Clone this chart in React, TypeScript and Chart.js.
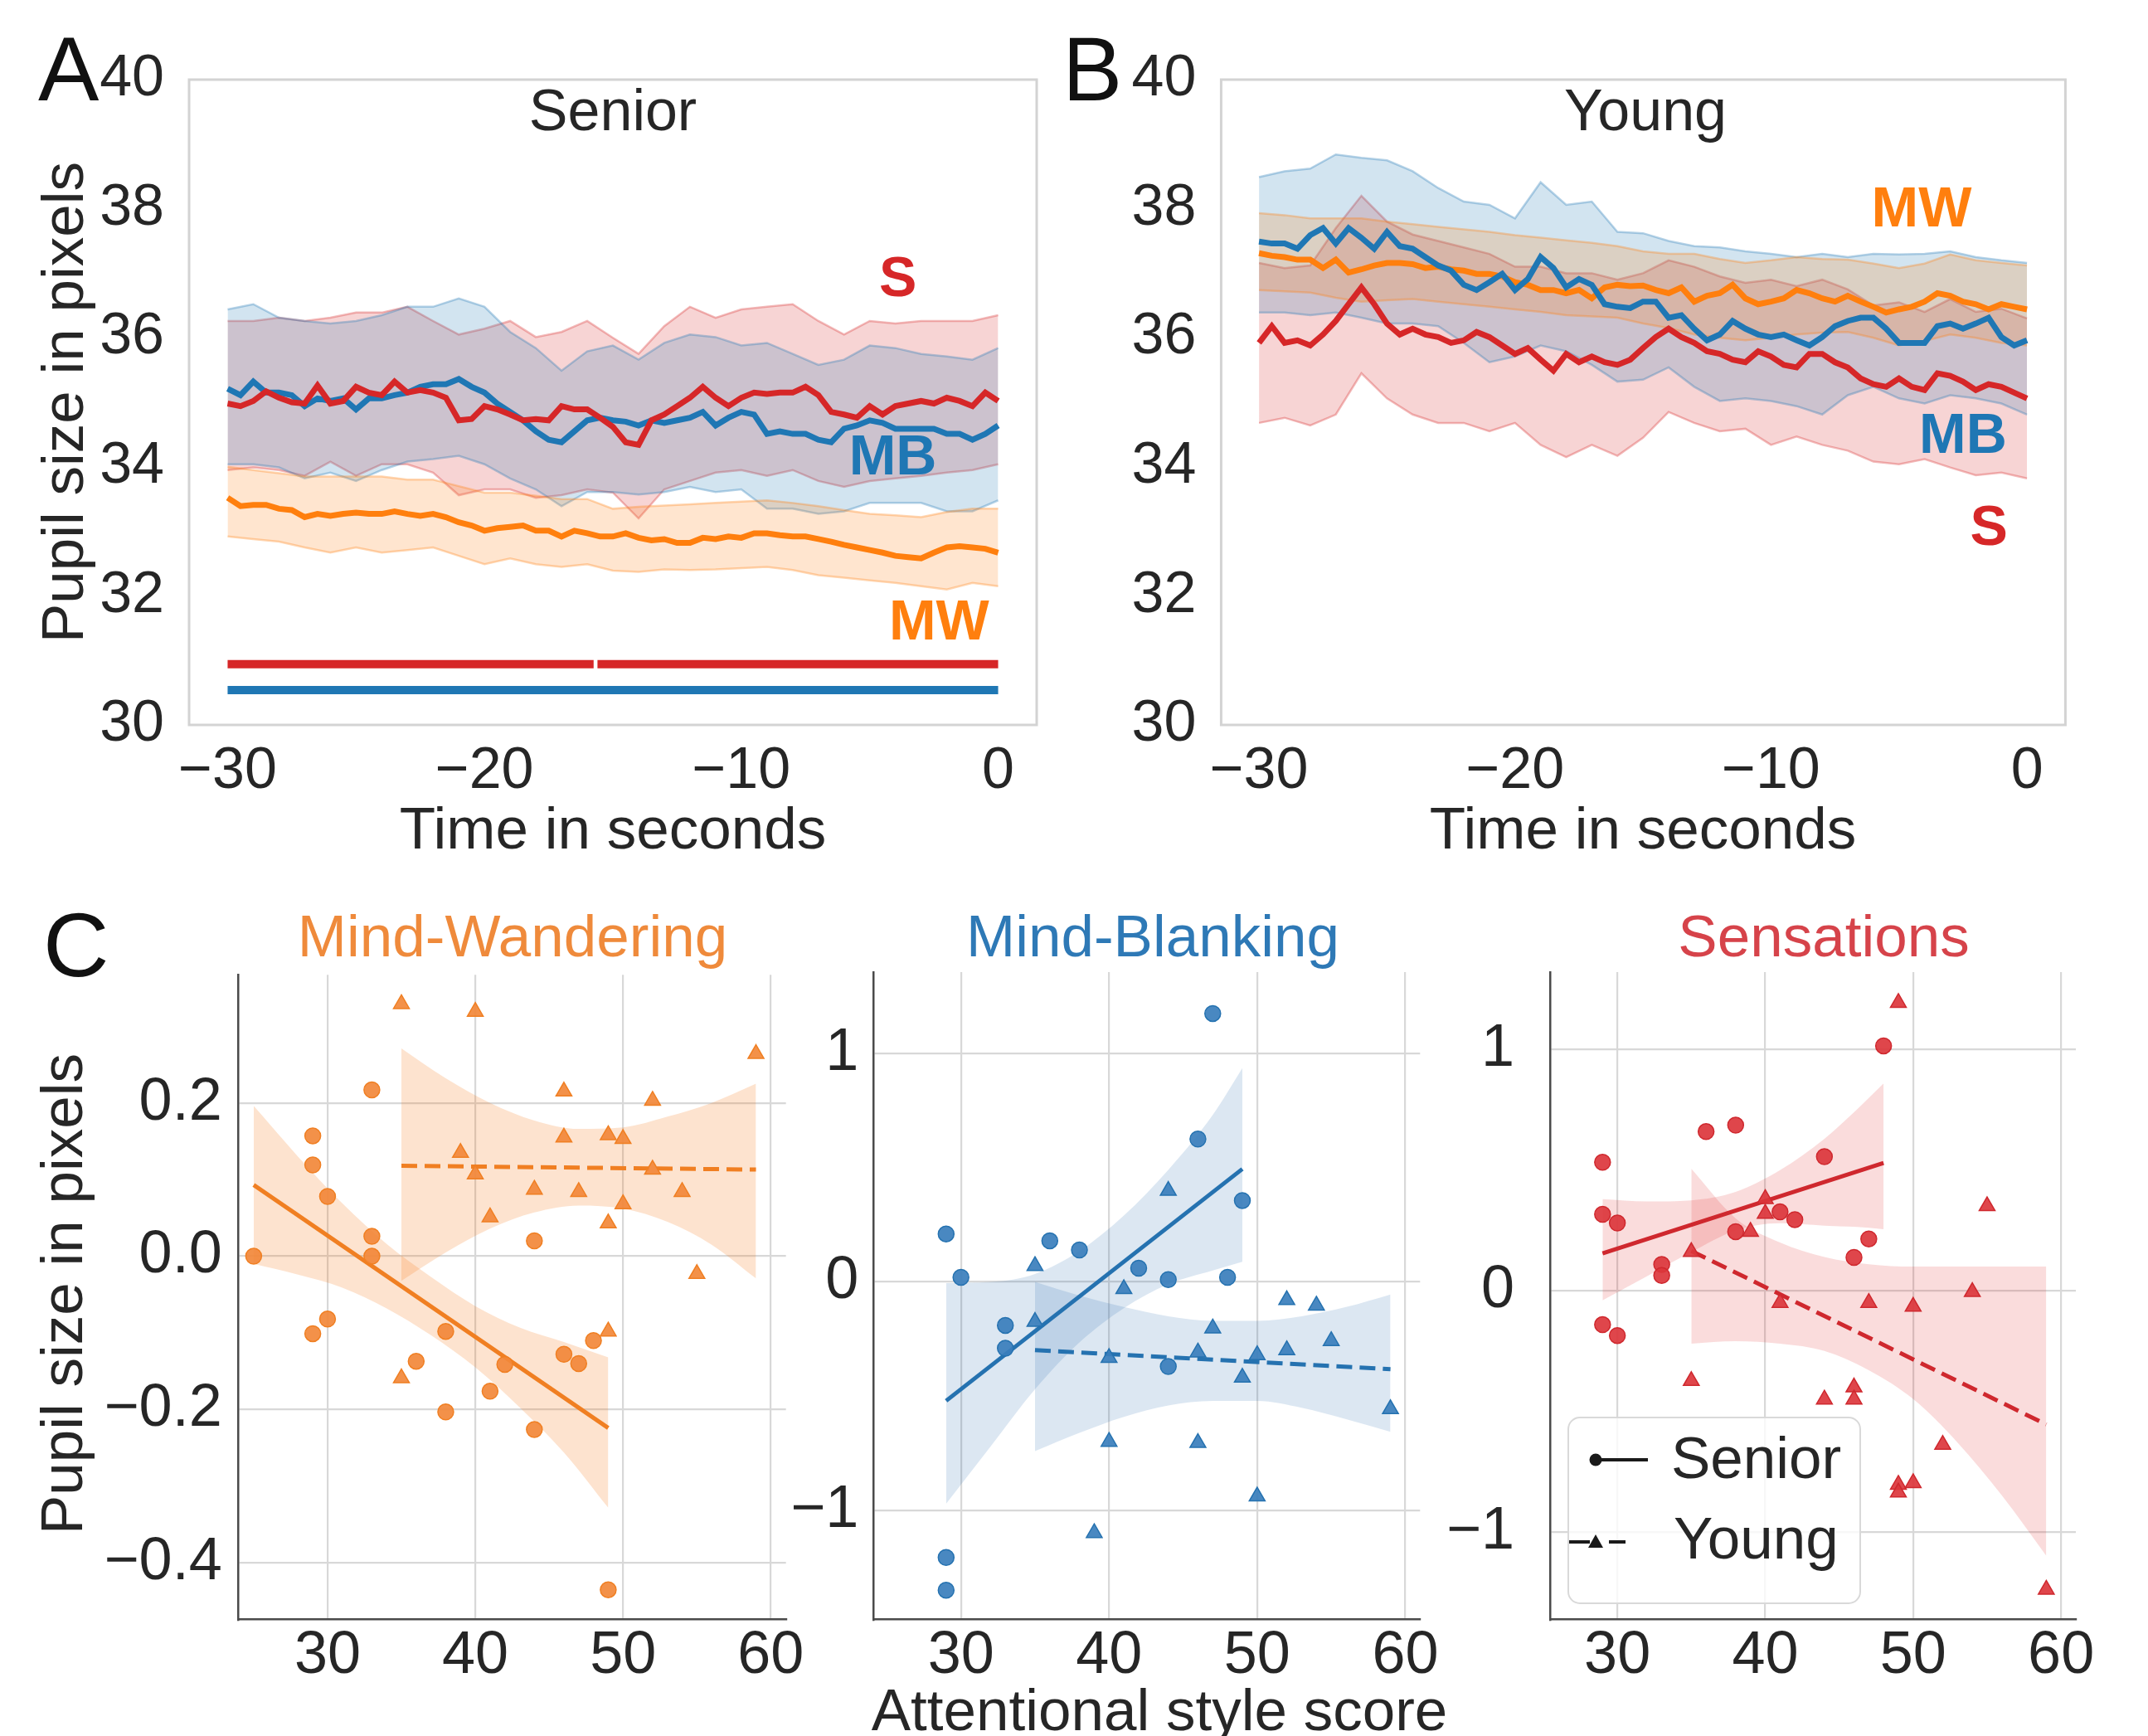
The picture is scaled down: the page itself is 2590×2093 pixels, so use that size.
import React, { useEffect, useRef } from 'react';
import { Chart, registerables } from 'chart.js';

Chart.register(...registerables);

const FONT = "'Liberation Sans', Arial, Helvetica, sans-serif";
const INK = '#262626';

// ---------------- Panels A / B (time courses) ----------------
const T_HALF = [-30, -29.5, -29, -28.5, -28, -27.5, -27, -26.5, -26, -25.5, -25, -24.5, -24, -23.5, -23, -22.5, -22, -21.5, -21, -20.5, -20, -19.5, -19, -18.5, -18, -17.5, -17, -16.5, -16, -15.5, -15, -14.5, -14, -13.5, -13, -12.5, -12, -11.5, -11, -10.5, -10, -9.5, -9, -8.5, -8, -7.5, -7, -6.5, -6, -5.5, -5, -4.5, -4, -3.5, -3, -2.5, -2, -1.5, -1, -0.5, 0];
const T_SEC = [-30, -29, -28, -27, -26, -25, -24, -23, -22, -21, -20, -19, -18, -17, -16, -15, -14, -13, -12, -11, -10, -9, -8, -7, -6, -5, -4, -3, -2, -1, 0];
const TIME_TICKS = [-30, -20, -10, 0];
const PUPIL_TICKS = [30, 32, 34, 36, 38, 40];

// Senior
const SEN_S_MEAN = [34.98, 34.94, 35.02, 35.17, 35.07, 35.0, 34.98, 35.26, 34.98, 35.02, 35.24, 35.15, 35.11, 35.32, 35.15, 35.19, 35.15, 35.07, 34.72, 34.74, 34.94, 34.89, 34.81, 34.72, 34.74, 34.72, 34.94, 34.89, 34.89, 34.76, 34.62, 34.38, 34.34, 34.72, 34.81, 34.94, 35.07, 35.24, 35.07, 34.94, 35.07, 35.15, 35.13, 35.15, 35.15, 35.24, 35.11, 34.85, 34.81, 34.76, 34.94, 34.81, 34.94, 34.98, 35.02, 34.98, 35.07, 35.02, 34.94, 35.15, 35.02];
const SEN_MB_MEAN = [35.21, 35.11, 35.32, 35.15, 35.15, 35.11, 34.94, 35.06, 35.02, 35.06, 34.89, 35.06, 35.06, 35.11, 35.15, 35.24, 35.28, 35.28, 35.36, 35.24, 35.15, 34.98, 34.85, 34.72, 34.55, 34.42, 34.38, 34.55, 34.72, 34.76, 34.72, 34.7, 34.64, 34.72, 34.68, 34.72, 34.76, 34.85, 34.64, 34.76, 34.85, 34.81, 34.51, 34.55, 34.51, 34.51, 34.42, 34.38, 34.59, 34.64, 34.72, 34.68, 34.59, 34.59, 34.59, 34.59, 34.51, 34.51, 34.42, 34.51, 34.64];
const SEN_MW_MEAN = [33.52, 33.39, 33.41, 33.41, 33.35, 33.33, 33.22, 33.27, 33.24, 33.27, 33.29, 33.27, 33.27, 33.31, 33.27, 33.24, 33.27, 33.22, 33.14, 33.09, 33.01, 33.05, 33.07, 33.09, 33.01, 33.01, 32.92, 33.01, 32.97, 32.92, 32.92, 32.97, 32.9, 32.86, 32.88, 32.82, 32.82, 32.9, 32.88, 32.92, 32.9, 32.97, 32.97, 32.94, 32.92, 32.92, 32.88, 32.84, 32.79, 32.75, 32.71, 32.67, 32.62, 32.6, 32.58, 32.67, 32.75, 32.77, 32.75, 32.73, 32.67];
const SEN_S_HI = [36.26, 36.26, 36.31, 36.26, 36.31, 36.39, 36.39, 36.48, 36.26, 36.05, 36.14, 36.26, 36.01, 36.09, 36.26, 36.0, 35.75, 36.18, 36.48, 36.31, 36.44, 36.48, 36.52, 36.26, 36.05, 36.26, 36.22, 36.26, 36.26, 36.26, 36.35];
const SEN_S_LO = [33.95, 33.99, 33.95, 33.86, 34.08, 33.86, 34.04, 34.04, 33.91, 33.56, 33.65, 33.65, 33.52, 33.56, 33.65, 33.6, 33.2, 33.65, 33.78, 33.91, 33.95, 33.86, 33.95, 33.78, 33.69, 33.78, 33.82, 33.86, 33.91, 33.95, 34.04];
const SEN_MB_HI = [36.44, 36.52, 36.31, 36.26, 36.22, 36.26, 36.35, 36.48, 36.48, 36.61, 36.48, 36.09, 35.84, 35.49, 35.79, 35.88, 35.66, 35.92, 36.05, 36.01, 35.88, 35.92, 35.75, 35.58, 35.66, 35.88, 35.84, 35.75, 35.71, 35.66, 35.84];
const SEN_MB_LO = [34.04, 34.04, 33.99, 33.82, 33.91, 33.78, 33.95, 34.08, 34.12, 34.17, 34.04, 33.82, 33.65, 33.39, 33.61, 33.61, 33.57, 33.61, 33.69, 33.61, 33.65, 33.35, 33.35, 33.27, 33.31, 33.44, 33.44, 33.44, 33.31, 33.31, 33.48];
const SEN_MW_HI = [34.0, 33.95, 33.9, 33.85, 33.85, 33.85, 33.85, 33.8, 33.8, 33.7, 33.6, 33.6, 33.55, 33.5, 33.5, 33.35, 33.38, 33.4, 33.42, 33.44, 33.46, 33.48, 33.44, 33.39, 33.33, 33.27, 33.25, 33.22, 33.3, 33.35, 33.35];
const SEN_MW_LO = [32.92, 32.88, 32.84, 32.75, 32.67, 32.75, 32.67, 32.71, 32.75, 32.62, 32.49, 32.58, 32.49, 32.45, 32.49, 32.39, 32.37, 32.41, 32.4, 32.41, 32.43, 32.45, 32.4, 32.32, 32.28, 32.24, 32.2, 32.15, 32.1, 32.2, 32.15];
const SIG_S_SEGMENTS = [[-30, -15.75], [-15.6, 0]];
const SIG_S_LEVEL = 30.94;
const SIG_MB_SEGMENTS = [[-30, 0]];
const SIG_MB_LEVEL = 30.54;

// Young
const YNG_S_MEAN = [35.92, 36.18, 35.92, 35.96, 35.88, 36.05, 36.26, 36.52, 36.78, 36.52, 36.22, 36.05, 36.14, 36.05, 36.01, 35.92, 35.96, 36.09, 36.01, 35.88, 35.75, 35.84, 35.66, 35.49, 35.75, 35.62, 35.71, 35.62, 35.58, 35.66, 35.84, 36.01, 36.14, 36.01, 35.92, 35.79, 35.75, 35.66, 35.62, 35.79, 35.71, 35.58, 35.54, 35.75, 35.75, 35.62, 35.54, 35.37, 35.28, 35.24, 35.37, 35.24, 35.19, 35.45, 35.41, 35.32, 35.19, 35.28, 35.24, 35.15, 35.06];
const YNG_MB_MEAN = [37.49, 37.46, 37.46, 37.38, 37.59, 37.7, 37.46, 37.7, 37.55, 37.38, 37.64, 37.42, 37.38, 37.25, 37.12, 37.04, 36.82, 36.74, 36.86, 36.99, 36.74, 36.91, 37.25, 37.08, 36.78, 36.91, 36.82, 36.52, 36.48, 36.46, 36.56, 36.56, 36.31, 36.35, 36.14, 35.96, 36.05, 36.26, 36.14, 36.05, 36.01, 36.05, 35.96, 35.88, 36.01, 36.18, 36.26, 36.31, 36.31, 36.14, 35.92, 35.92, 35.92, 36.18, 36.22, 36.14, 36.22, 36.31, 36.01, 35.88, 35.96];
const YNG_MW_MEAN = [37.31, 37.27, 37.25, 37.21, 37.21, 37.08, 37.21, 37.01, 37.06, 37.12, 37.16, 37.16, 37.14, 37.08, 37.1, 37.06, 37.04, 36.99, 36.99, 36.95, 36.86, 36.82, 36.74, 36.74, 36.69, 36.74, 36.61, 36.78, 36.82, 36.8, 36.81, 36.74, 36.69, 36.78, 36.56, 36.65, 36.69, 36.82, 36.61, 36.52, 36.56, 36.61, 36.74, 36.69, 36.61, 36.56, 36.65, 36.56, 36.48, 36.39, 36.44, 36.48, 36.56, 36.69, 36.65, 36.56, 36.52, 36.44, 36.52, 36.48, 36.44];
const YNG_S_HI = [37.16, 37.08, 37.12, 37.7, 38.2, 37.8, 37.6, 37.5, 37.4, 37.3, 37.1, 37.1, 37.0, 37.0, 36.9, 37.0, 37.2, 37.1, 36.95, 36.85, 36.9, 36.8, 36.9, 36.75, 36.5, 36.55, 36.4, 36.6, 36.4, 36.45, 36.3];
const YNG_S_LO = [34.68, 34.76, 34.64, 34.81, 35.45, 35.06, 34.81, 34.68, 34.68, 34.55, 34.68, 34.34, 34.15, 34.34, 34.17, 34.45, 34.85, 34.68, 34.55, 34.59, 34.34, 34.47, 34.34, 34.25, 34.08, 34.04, 34.12, 33.99, 33.87, 33.91, 33.82];
const YNG_MB_HI = [38.49, 38.58, 38.62, 38.84, 38.79, 38.75, 38.58, 38.32, 38.11, 38.06, 37.85, 38.41, 38.06, 38.11, 37.64, 37.62, 37.5, 37.42, 37.4, 37.34, 37.3, 37.25, 37.3, 37.25, 37.3, 37.29, 37.3, 37.34, 37.25, 37.2, 37.16];
const YNG_MB_LO = [36.39, 36.39, 36.35, 36.39, 36.31, 36.22, 36.22, 36.18, 35.92, 35.62, 35.71, 35.88, 35.79, 35.58, 35.32, 35.35, 35.54, 35.24, 35.02, 35.06, 35.02, 34.94, 34.81, 35.11, 35.24, 35.06, 34.98, 35.11, 35.06, 34.98, 34.81];
const YNG_MW_HI = [37.93, 37.9, 37.85, 37.85, 37.85, 37.8, 37.76, 37.72, 37.68, 37.64, 37.59, 37.55, 37.51, 37.47, 37.42, 37.34, 37.3, 37.3, 37.22, 37.16, 37.2, 37.25, 37.22, 37.21, 37.15, 37.08, 37.15, 37.29, 37.2, 37.16, 37.12];
const YNG_MW_LO = [36.74, 36.72, 36.7, 36.62, 36.56, 36.58, 36.6, 36.56, 36.52, 36.48, 36.44, 36.4, 36.35, 36.33, 36.31, 36.22, 36.15, 36.05, 36.0, 35.96, 36.0, 36.05, 36.08, 36.09, 36.0, 35.88, 35.95, 36.05, 36.0, 35.92, 35.88];

// condition labels (time, pupil value)
const SEN_LABEL_POS = [[-3.9, 36.88], [-4.1, 34.12], [-2.3, 31.57]]; // S, MB, MW
const YNG_LABEL_POS = [[-1.49, 33.03], [-2.5, 34.46], [-4.12, 37.96]]; // S, MB, MW

// ---------------- Panel C (attentional style) ----------------
const SCORE_TICKS = [30, 40, 50, 60];

const MW_SEN_X = [25, 29, 29, 30, 33, 33, 33, 30, 29, 38, 36, 38, 41, 42, 44, 44, 46, 47, 48, 49];
const MW_SEN_Y = [0.0, 0.157, 0.119, 0.078, 0.217, 0.026, 0.0, -0.082, -0.101, -0.098, -0.137, -0.203, -0.176, -0.141, 0.02, -0.226, -0.128, -0.14, -0.11, -0.435];
const MW_YNG_X = [35, 40, 39, 40, 41, 44, 46, 46, 47, 49, 49, 50, 50, 52, 52, 54, 55, 59, 35, 49];
const MW_YNG_Y = [0.329, 0.319, 0.135, 0.107, 0.051, 0.087, 0.215, 0.155, 0.084, 0.158, 0.043, 0.153, 0.068, 0.203, 0.113, 0.084, -0.023, 0.264, -0.159, -0.098];
const MW_SEN_FIT_X = [25, 49];
const MW_SEN_FIT_Y = [0.093, -0.224];
const MW_YNG_FIT_X = [35, 59];
const MW_YNG_FIT_Y = [0.118, 0.113];
const MW_SEN_BAND_X = [25, 28, 31, 34, 37, 40, 43, 46, 49];
const MW_SEN_BAND_HI = [0.196, 0.13, 0.069, 0.016, -0.027, -0.065, -0.093, -0.112, -0.132];
const MW_SEN_BAND_LO = [-0.01, -0.024, -0.041, -0.068, -0.103, -0.145, -0.197, -0.256, -0.328];
const MW_YNG_BAND_X = [35, 38, 41, 44, 47, 50, 53, 56, 59];
const MW_YNG_BAND_HI = [0.271, 0.232, 0.2, 0.177, 0.166, 0.168, 0.182, 0.2, 0.225];
const MW_YNG_BAND_LO = [-0.032, 0.005, 0.036, 0.057, 0.066, 0.062, 0.045, 0.015, -0.029];
const MW_Y_TICKS = [-0.4, -0.2, 0, 0.2];

const MB_SEN_X = [29, 30, 33, 33, 36, 38, 42, 44, 44, 46, 47, 48, 49, 29, 29];
const MB_SEN_Y = [0.21, 0.02, -0.19, -0.29, 0.18, 0.14, 0.06, 0.01, -0.37, 0.625, 1.174, 0.02, 0.356, -1.205, -1.348];
const MB_YNG_X = [35, 35, 40, 41, 44, 46, 47, 49, 50, 52, 52, 54, 55, 59, 40, 46, 50, 39];
const MB_YNG_Y = [0.07, -0.174, -0.332, -0.031, 0.399, -0.308, -0.203, -0.418, -0.32, -0.079, -0.298, -0.103, -0.258, -0.556, -0.699, -0.704, -0.938, -1.098];
const MB_SEN_FIT_X = [29, 49];
const MB_SEN_FIT_Y = [-0.52, 0.494];
const MB_YNG_FIT_X = [35, 59];
const MB_YNG_FIT_Y = [-0.298, -0.382];
const MB_SEN_BAND_X = [29, 32, 35, 38, 41, 44, 47, 49];
const MB_SEN_BAND_HI = [-0.005, 0.0, 0.035, 0.135, 0.29, 0.49, 0.73, 0.935];
const MB_SEN_BAND_LO = [-0.97, -0.72, -0.47, -0.265, -0.115, -0.01, 0.05, 0.088];
const MB_YNG_BAND_X = [35, 38, 41, 44, 47, 50, 53, 56, 59];
const MB_YNG_BAND_HI = [0.0, -0.06, -0.11, -0.15, -0.17, -0.17, -0.15, -0.11, -0.055];
const MB_YNG_BAND_LO = [-0.74, -0.66, -0.59, -0.54, -0.52, -0.52, -0.55, -0.6, -0.656];
const UNIT_TICKS = [-1, 0, 1];

const S_SEN_X = [29, 29, 30, 29, 30, 33, 33, 36, 38, 38, 41, 42, 44, 46, 47, 48];
const S_SEN_Y = [0.533, 0.317, 0.281, -0.141, -0.186, 0.109, 0.063, 0.66, 0.687, 0.245, 0.327, 0.295, 0.556, 0.138, 0.215, 1.016];
const S_YNG_X = [35, 35, 39, 40, 40, 41, 44, 46, 46, 47, 49, 49, 49, 50, 50, 52, 54, 55, 59];
const S_YNG_Y = [0.161, -0.374, 0.245, 0.381, 0.32, -0.05, -0.451, -0.401, -0.451, -0.05, 1.195, -0.805, -0.837, -0.066, -0.798, -0.639, -0.005, 0.351, -1.24];
const S_SEN_FIT_X = [29, 48];
const S_SEN_FIT_Y = [0.155, 0.53];
const S_YNG_FIT_X = [35, 59];
const S_YNG_FIT_Y = [0.165, -0.555];
const S_SEN_BAND_X = [29, 32, 35, 38, 41, 44, 46, 48];
const S_SEN_BAND_HI = [0.38, 0.37, 0.375, 0.41, 0.5, 0.63, 0.74, 0.86];
const S_SEN_BAND_LO = [-0.04, 0.06, 0.16, 0.25, 0.28, 0.27, 0.265, 0.255];
const S_YNG_BAND_X = [35, 38, 41, 44, 47, 50, 53, 56, 59];
const S_YNG_BAND_HI = [0.506, 0.3, 0.2, 0.14, 0.11, 0.1, 0.1, 0.1, 0.1];
const S_YNG_BAND_LO = [-0.22, -0.21, -0.22, -0.25, -0.33, -0.45, -0.63, -0.85, -1.1];

// ---------------- helpers ----------------
const C_MW = [255, 127, 14];
const C_MB = [31, 119, 180];
const C_S = [214, 39, 40];
const rgba = (c: number[], a: number) => `rgba(${c[0]},${c[1]},${c[2]},${a})`;
const pts = (xs: number[], ys: number[]) => xs.map((x, i) => ({ x, y: ys[i] }));
const fmt = (v: number, d: number) => {
  const s = Math.abs(v).toFixed(d);
  return v < -1e-9 ? '\u2212' + s : s;
};
const font = (size: number, weight = 'normal') => `${weight} ${size}px ${FONT}`;

function drawText(ctx: CanvasRenderingContext2D, text: string, x: number, y: number, f: string, color: string, align: CanvasTextAlign = 'center', base: CanvasTextBaseline = 'alphabetic') {
  ctx.font = f;
  ctx.fillStyle = color;
  ctx.textAlign = align;
  ctx.textBaseline = base;
  ctx.fillText(text, x, y);
}

function drawVertical(ctx: CanvasRenderingContext2D, text: string, x: number, y: number, f: string) {
  ctx.save();
  ctx.translate(x, y);
  ctx.rotate(-Math.PI / 2);
  drawText(ctx, text, 0, 0, f, INK);
  ctx.restore();
}

// ---------------- time panel config ----------------
type TimeP = {
  offX: number; offY: number; W: number; H: number;
  left: number; right: number; top: number; bottom: number;
  xMin: number; xMax: number;
  letter: string; letterX: number; title: string; titleX: number; xTitleX: number; yTitle: boolean;
  s: number[]; mb: number[]; mw: number[];
  sHi: number[]; sLo: number[]; mbHi: number[]; mbLo: number[]; mwHi: number[]; mwLo: number[];
  sig: boolean; labelPos: number[][];
};

function timeConfig(p: TimeP): any {
  const band = (hi: number[], lo: number[], c: number[]) => [
    { type: 'line', data: pts(T_SEC, hi), borderColor: rgba(c, 0.32), borderWidth: 2.5, pointRadius: 0, fill: '+1', backgroundColor: rgba(c, 0.2), order: 20 },
    { type: 'line', data: pts(T_SEC, lo), borderColor: rgba(c, 0.32), borderWidth: 2.5, pointRadius: 0, fill: false, order: 20 },
  ];
  const mean = (v: number[], c: number[], order: number) => ({
    type: 'line', data: pts(T_HALF, v), borderColor: rgba(c, 1), borderWidth: 7, pointRadius: 0, fill: false, order,
  });
  const datasets: any[] = [
    ...band(p.mwHi, p.mwLo, C_MW),
    ...band(p.mbHi, p.mbLo, C_MB),
    ...band(p.sHi, p.sLo, C_S),
    mean(p.mw, C_MW, 3),
    mean(p.mb, C_MB, 2),
    mean(p.s, C_S, 1),
  ];
  if (p.sig) {
    SIG_S_SEGMENTS.forEach((seg) => datasets.push({ type: 'line', data: pts(seg, [SIG_S_LEVEL, SIG_S_LEVEL]), borderColor: rgba(C_S, 1), borderWidth: 10, borderCapStyle: 'butt', pointRadius: 0, fill: false, order: 0 }));
    SIG_MB_SEGMENTS.forEach((seg) => datasets.push({ type: 'line', data: pts(seg, [SIG_MB_LEVEL, SIG_MB_LEVEL]), borderColor: rgba(C_MB, 1), borderWidth: 10, borderCapStyle: 'butt', pointRadius: 0, fill: false, order: 0 }));
  }
  const labels = [
    { text: 'S', c: C_S, pos: p.labelPos[0] },
    { text: 'MB', c: C_MB, pos: p.labelPos[1] },
    { text: 'MW', c: C_MW, pos: p.labelPos[2] },
  ];
  const decor = {
    id: 'decor',
    afterDraw(chart: any) {
      const ctx = chart.ctx as CanvasRenderingContext2D;
      const a = chart.chartArea;
      ctx.save();
      ctx.strokeStyle = '#d3d3d3';
      ctx.lineWidth = 3;
      ctx.strokeRect(a.left, a.top, a.right - a.left, a.bottom - a.top);
      const xs = chart.scales.x, ys = chart.scales.y;
      for (const l of labels) {
        drawText(ctx, l.text, xs.getPixelForValue(l.pos[0]), ys.getPixelForValue(l.pos[1]), font(68, 'bold'), rgba(l.c, 1), 'center', 'middle');
      }
      ctx.translate(-p.offX, -p.offY);
      drawText(ctx, p.letter, p.letterX, 121, font(110), '#111111', 'left');
      drawText(ctx, p.title, p.titleX, 157, font(70), INK);
      drawText(ctx, 'Time in seconds', p.xTitleX, 1023, font(71), INK);
      if (p.yTitle) drawVertical(ctx, 'Pupil size in pixels', 100, 485, font(71));
      ctx.restore();
    },
  };
  return {
    type: 'line',
    data: { datasets },
    plugins: [decor],
    options: {
      responsive: false,
      animation: false,
      devicePixelRatio: 1,
      events: [],
      layout: { padding: { left: 0, top: p.top, right: p.W - p.right, bottom: p.H - p.bottom - 120 } },
      plugins: { legend: { display: false }, tooltip: { enabled: false } },
      scales: {
        x: {
          type: 'linear', min: p.xMin, max: p.xMax,
          afterBuildTicks: (ax: any) => { ax.ticks = TIME_TICKS.map((value) => ({ value })); },
          afterFit: (ax: any) => { ax.height = 120; },
          grid: { display: false }, border: { display: false },
          ticks: { autoSkip: false, maxRotation: 0, minRotation: 0, padding: 7, color: INK, font: { family: FONT, size: 70 }, callback: (v: number) => fmt(v, 0) },
        },
        y: {
          type: 'linear', min: 30, max: 40,
          afterBuildTicks: (ax: any) => { ax.ticks = PUPIL_TICKS.map((value) => ({ value })); },
          afterFit: (ax: any) => { ax.width = p.left; },
          grid: { display: false }, border: { display: false },
          ticks: { autoSkip: false, padding: 22, color: INK, font: { family: FONT, size: 70 }, callback: (v: number) => fmt(v, 0) },
        },
      },
    },
  };
}

// ---------------- scatter panel config ----------------
type ScatP = {
  offX: number; offY: number; W: number; H: number;
  left: number; right: number; top: number; bottom: number;
  xMin: number; xMax: number; yMin: number; yMax: number; yTicks: number[]; yDec: number; yPad: number;
  pt: string; line: string; band: string;
  senX: number[]; senY: number[]; yngX: number[]; yngY: number[];
  senFitX: number[]; senFitY: number[]; yngFitX: number[]; yngFitY: number[];
  senBandX: number[]; senBandHi: number[]; senBandLo: number[];
  yngBandX: number[]; yngBandHi: number[]; yngBandLo: number[];
  title: string; titleX: number; titleColor: string;
  letter: boolean; yTitle: boolean; xTitle: boolean; legend: boolean;
};

function scatterConfig(p: ScatP): any {
  const bandSet = (x: number[], hi: number[], lo: number[]) => [
    { type: 'line', data: pts(x, hi), fill: '+1', backgroundColor: p.band, borderWidth: 0, borderColor: 'rgba(0,0,0,0)', pointRadius: 0, cubicInterpolationMode: 'monotone', order: 10 },
    { type: 'line', data: pts(x, lo), fill: false, borderWidth: 0, borderColor: 'rgba(0,0,0,0)', pointRadius: 0, cubicInterpolationMode: 'monotone', order: 10 },
  ];
  const datasets: any[] = [
    ...bandSet(p.senBandX, p.senBandHi, p.senBandLo),
    ...bandSet(p.yngBandX, p.yngBandHi, p.yngBandLo),
    { type: 'line', data: pts(p.senFitX, p.senFitY), borderColor: p.line, borderWidth: 5, pointRadius: 0, fill: false, order: 5 },
    { type: 'line', data: pts(p.yngFitX, p.yngFitY), borderColor: p.line, borderWidth: 5, borderDash: [19, 9], pointRadius: 0, fill: false, order: 5 },
    { type: 'scatter', data: pts(p.senX, p.senY), pointStyle: 'circle', pointRadius: 9.5, pointBackgroundColor: p.pt, pointBorderColor: p.line, pointBorderWidth: 1.5, order: 0 },
    { type: 'scatter', data: pts(p.yngX, p.yngY), pointStyle: 'triangle', pointRadius: 11, pointBackgroundColor: p.pt, pointBorderColor: p.line, pointBorderWidth: 1.5, order: 0 },
  ];
  const decor = {
    id: 'decor',
    afterDraw(chart: any) {
      const ctx = chart.ctx as CanvasRenderingContext2D;
      ctx.save();
      ctx.translate(-p.offX, -p.offY);
      drawText(ctx, p.title, p.titleX, 1153, font(71), p.titleColor);
      if (p.letter) drawText(ctx, 'C', 52, 1177, font(110), '#111111', 'left');
      if (p.yTitle) drawVertical(ctx, 'Pupil size in pixels', 99, 1560, font(71));
      if (p.xTitle) drawText(ctx, 'Attentional style score', 1398, 2086, font(71), INK);
      if (p.legend) {
        const bx = 1891, by = 1709, bw = 352, bh = 224, r = 14;
        ctx.beginPath();
        ctx.moveTo(bx + r, by);
        ctx.arcTo(bx + bw, by, bx + bw, by + bh, r);
        ctx.arcTo(bx + bw, by + bh, bx, by + bh, r);
        ctx.arcTo(bx, by + bh, bx, by, r);
        ctx.arcTo(bx, by, bx + bw, by, r);
        ctx.closePath();
        ctx.fillStyle = 'rgba(255,255,255,0.8)';
        ctx.fill();
        ctx.strokeStyle = '#d9d9d9';
        ctx.lineWidth = 2;
        ctx.stroke();
        ctx.strokeStyle = '#1a1a1a';
        ctx.fillStyle = '#1a1a1a';
        ctx.lineWidth = 4;
        ctx.beginPath(); ctx.moveTo(1924, 1760); ctx.lineTo(1987, 1760); ctx.stroke();
        ctx.beginPath(); ctx.arc(1924, 1760, 7.5, 0, Math.PI * 2); ctx.fill();
        ctx.beginPath(); ctx.moveTo(1892, 1859); ctx.lineTo(1917, 1859); ctx.stroke();
        ctx.beginPath(); ctx.moveTo(1940, 1859); ctx.lineTo(1960, 1859); ctx.stroke();
        ctx.beginPath(); ctx.moveTo(1924, 1850); ctx.lineTo(1933, 1866); ctx.lineTo(1915, 1866); ctx.closePath(); ctx.fill();
        drawText(ctx, 'Senior', 2015, 1762, font(71), INK, 'left', 'middle');
        drawText(ctx, 'Young', 2018, 1859, font(71), INK, 'left', 'middle');
      }
      ctx.restore();
    },
  };
  return {
    type: 'scatter',
    data: { datasets },
    plugins: [decor],
    options: {
      responsive: false,
      animation: false,
      devicePixelRatio: 1,
      events: [],
      layout: { padding: { left: 0, top: p.top, right: p.W - p.right, bottom: p.H - p.bottom - 100 } },
      plugins: { legend: { display: false }, tooltip: { enabled: false } },
      scales: {
        x: {
          type: 'linear', min: p.xMin, max: p.xMax,
          afterBuildTicks: (ax: any) => { ax.ticks = SCORE_TICKS.map((value) => ({ value })); },
          afterFit: (ax: any) => { ax.height = 100; },
          grid: { display: true, color: '#d8d8d8', lineWidth: 2.2, drawTicks: false },
          border: { display: true, color: '#4a4a4a', width: 2.5 },
          ticks: { autoSkip: false, maxRotation: 0, minRotation: 0, padding: 1, color: INK, font: { family: FONT, size: 72 }, callback: (v: number) => fmt(v, 0) },
        },
        y: {
          type: 'linear', min: p.yMin, max: p.yMax,
          afterBuildTicks: (ax: any) => { ax.ticks = p.yTicks.map((value) => ({ value })); },
          afterFit: (ax: any) => { ax.width = p.left; },
          grid: { display: true, color: '#d8d8d8', lineWidth: 2.2, drawTicks: false },
          border: { display: true, color: '#4a4a4a', width: 2.5 },
          ticks: { autoSkip: false, padding: p.yPad, color: INK, font: { family: FONT, size: 72 }, callback: (v: number) => fmt(v, p.yDec) },
        },
      },
    },
  };
}

// ---------------- configs ----------------
const makeSenior = () => timeConfig({
  offX: 0, offY: 0, W: 1290, H: 1060, left: 228, right: 1250, top: 96, bottom: 874,
  xMin: -31.5, xMax: 1.5, letter: 'A', letterX: 46, title: 'Senior', titleX: 739, xTitleX: 739, yTitle: true,
  s: SEN_S_MEAN, mb: SEN_MB_MEAN, mw: SEN_MW_MEAN,
  sHi: SEN_S_HI, sLo: SEN_S_LO, mbHi: SEN_MB_HI, mbLo: SEN_MB_LO, mwHi: SEN_MW_HI, mwLo: SEN_MW_LO,
  sig: true, labelPos: SEN_LABEL_POS,
});

const makeYoung = () => timeConfig({
  offX: 1290, offY: 0, W: 1300, H: 1060, left: 182.4, right: 1200.4, top: 96, bottom: 874,
  xMin: -31.48, xMax: 1.5, letter: 'B', letterX: 1280, title: 'Young', titleX: 1984, xTitleX: 1981, yTitle: false,
  s: YNG_S_MEAN, mb: YNG_MB_MEAN, mw: YNG_MW_MEAN,
  sHi: YNG_S_HI, sLo: YNG_S_LO, mbHi: YNG_MB_HI, mbLo: YNG_MB_LO, mwHi: YNG_MW_HI, mwLo: YNG_MW_LO,
  sig: false, labelPos: YNG_LABEL_POS,
});

const makeMW = () => scatterConfig({
  offX: 0, offY: 1060, W: 990, H: 1033, left: 287.7, right: 947.7, top: 115.3, bottom: 892.7,
  xMin: 23.98, xMax: 61.03, yMin: -0.474, yMax: 0.367, yTicks: MW_Y_TICKS, yDec: 1, yPad: 20,
  pt: 'rgba(242,136,58,0.92)', line: '#f07f22', band: 'rgba(245,115,15,0.2)',
  senX: MW_SEN_X, senY: MW_SEN_Y, yngX: MW_YNG_X, yngY: MW_YNG_Y,
  senFitX: MW_SEN_FIT_X, senFitY: MW_SEN_FIT_Y, yngFitX: MW_YNG_FIT_X, yngFitY: MW_YNG_FIT_Y,
  senBandX: MW_SEN_BAND_X, senBandHi: MW_SEN_BAND_HI, senBandLo: MW_SEN_BAND_LO,
  yngBandX: MW_YNG_BAND_X, yngBandHi: MW_YNG_BAND_HI, yngBandLo: MW_YNG_BAND_LO,
  title: 'Mind-Wandering', titleX: 618, titleColor: '#ef8a3b', letter: true, yTitle: true, xTitle: false, legend: false,
});

const makeMB = () => scatterConfig({
  offX: 950, offY: 1060, W: 810, H: 1033, left: 103.3, right: 762.3, top: 112, bottom: 892.7,
  xMin: 24.1, xMax: 61.0, yMin: -1.477, yMax: 1.355, yTicks: UNIT_TICKS, yDec: 0, yPad: 18,
  pt: 'rgba(58,126,188,0.92)', line: '#2572b0', band: 'rgba(22,95,168,0.15)',
  senX: MB_SEN_X, senY: MB_SEN_Y, yngX: MB_YNG_X, yngY: MB_YNG_Y,
  senFitX: MB_SEN_FIT_X, senFitY: MB_SEN_FIT_Y, yngFitX: MB_YNG_FIT_X, yngFitY: MB_YNG_FIT_Y,
  senBandX: MB_SEN_BAND_X, senBandHi: MB_SEN_BAND_HI, senBandLo: MB_SEN_BAND_LO,
  yngBandX: MB_YNG_BAND_X, yngBandHi: MB_YNG_BAND_HI, yngBandLo: MB_YNG_BAND_LO,
  title: 'Mind-Blanking', titleX: 1390, titleColor: '#2e79b6', letter: false, yTitle: false, xTitle: true, legend: false,
});

const makeS = () => scatterConfig({
  offX: 1720, offY: 1060, W: 870, H: 1033, left: 149, right: 783, top: 112, bottom: 892.7,
  xMin: 25.45, xMax: 61.0, yMin: -1.365, yMax: 1.322, yTicks: UNIT_TICKS, yDec: 0, yPad: 43,
  pt: 'rgba(220,54,60,0.92)', line: '#cf282e', band: 'rgba(222,22,22,0.15)',
  senX: S_SEN_X, senY: S_SEN_Y, yngX: S_YNG_X, yngY: S_YNG_Y,
  senFitX: S_SEN_FIT_X, senFitY: S_SEN_FIT_Y, yngFitX: S_YNG_FIT_X, yngFitY: S_YNG_FIT_Y,
  senBandX: S_SEN_BAND_X, senBandHi: S_SEN_BAND_HI, senBandLo: S_SEN_BAND_LO,
  yngBandX: S_YNG_BAND_X, yngBandHi: S_YNG_BAND_HI, yngBandLo: S_YNG_BAND_LO,
  title: 'Sensations', titleX: 2199, titleColor: '#d6434a', letter: false, yTitle: false, xTitle: false, legend: true,
});

function ChartCanvas(props: { left: number; top: number; width: number; height: number; make: () => any }) {
  const ref = useRef<HTMLCanvasElement | null>(null);
  useEffect(() => {
    const chart = new Chart(ref.current as HTMLCanvasElement, props.make());
    return () => chart.destroy();
  }, []);
  return (
    <canvas
      ref={ref}
      width={props.width}
      height={props.height}
      style={{ position: 'absolute', left: props.left, top: props.top, width: props.width, height: props.height }}
    />
  );
}

export default function App() {
  return (
    <div style={{ position: 'absolute', left: 0, top: 0, width: 2590, height: 2093, background: '#ffffff', overflow: 'hidden' }}>
      <ChartCanvas left={0} top={0} width={1290} height={1060} make={makeSenior} />
      <ChartCanvas left={1290} top={0} width={1300} height={1060} make={makeYoung} />
      <ChartCanvas left={0} top={1060} width={990} height={1033} make={makeMW} />
      <ChartCanvas left={950} top={1060} width={810} height={1033} make={makeMB} />
      <ChartCanvas left={1720} top={1060} width={870} height={1033} make={makeS} />
    </div>
  );
}
